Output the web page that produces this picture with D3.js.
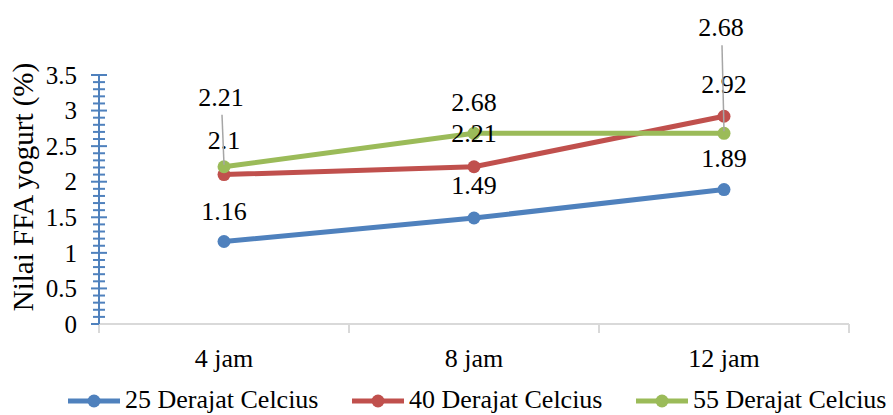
<!DOCTYPE html>
<html>
<head>
<meta charset="utf-8">
<script src="https://cdn.jsdelivr.net/npm/d3@7"></script>
<style>
  html, body { margin: 0; padding: 0; background: #fff; }
  svg { display: block; }
  .serif { font-family: 'Liberation Serif', 'Times New Roman', Tinos, 'DejaVu Serif', serif; }
</style>
</head>
<body>
<svg id="chart" width="893" height="415"></svg>
<script>
// Waktu pengamatan
const categories = ["4 jam", "8 jam", "12 jam"];
// Nilai FFA yogurt (%) per suhu
const seriesNames = ["25 Derajat Celcius", "40 Derajat Celcius", "55 Derajat Celcius"];
const values25 = [1.16, 1.49, 1.89];
const values40 = [2.1, 2.21, 2.92];
const values55 = [2.21, 2.68, 2.68];
const yTicks = [0, 0.5, 1, 1.5, 2, 2.5, 3, 3.5];
const yTickLabels = ["0", "0.5", "1", "1.5", "2", "2.5", "3", "3.5"];

const colors = ["#4F81BD", "#C0504D", "#9BBB59"];
const series = [values25, values40, values55].map((v, i) => ({ name: seriesNames[i], values: v, color: colors[i] }));

// Data label placement: vertical lift above the point (px); leader line when lifted far
const labelLift = [
  [31, 33, 32],
  [35, 34, 32],
  [70, 31, 106]
];
const labelShiftX = [
  [0, 0, 0],
  [0, 0, 0],
  [-3, 0, -3]
];

const svg = d3.select("#chart");
const margin = { left: 99, right: 44, top: 75, bottom: 91 };
const W = 893, H = 415;

const x = d3.scaleBand().domain(categories).range([margin.left, W - margin.right]).paddingInner(0).paddingOuter(0);
const y = d3.scaleLinear().domain([0, 3.5]).range([H - margin.bottom, margin.top]);
const cx = d => x(d) + x.bandwidth() / 2;

// Category axis (grey baseline with boundary ticks)
const xBase = y(0);
svg.append("line")
  .attr("x1", margin.left).attr("x2", W - margin.right)
  .attr("y1", xBase).attr("y2", xBase)
  .attr("stroke", "#d9d9d9").attr("stroke-width", 2);
const bounds = categories.map(c => x(c)).concat([x(categories[categories.length - 1]) + x.bandwidth()]);
svg.selectAll(".xtick").data(bounds).join("line")
  .attr("x1", d => d).attr("x2", d => d)
  .attr("y1", xBase).attr("y2", xBase + 9)
  .attr("stroke", "#d9d9d9").attr("stroke-width", 2);
svg.selectAll(".xlabel").data(categories).join("text")
  .attr("class", "serif")
  .attr("x", d => cx(d)).attr("y", xBase + 34).attr("dy", "0.35em")
  .attr("text-anchor", "middle").attr("font-size", 26).attr("fill", "#000")
  .text(d => d);

// Value axis (blue, with major and minor ticks)
const axisColor = "#4F81BD";
const minor = d3.range(0, 3.5001, 0.1).filter(v => Math.abs(v * 2 - Math.round(v * 2)) > 1e-6);
svg.selectAll(".ymin").data(minor).join("line")
  .attr("x1", margin.left - 6).attr("x2", margin.left + 6)
  .attr("y1", d => y(d)).attr("y2", d => y(d))
  .attr("stroke", axisColor).attr("stroke-width", 2);
svg.selectAll(".ymaj").data(yTicks).join("line")
  .attr("x1", margin.left - 8).attr("x2", d => d === 0 ? margin.left : margin.left + 8)
  .attr("y1", d => y(d)).attr("y2", d => y(d))
  .attr("stroke", axisColor).attr("stroke-width", 2);
svg.append("line")
  .attr("x1", margin.left).attr("x2", margin.left)
  .attr("y1", y(3.5)).attr("y2", y(0))
  .attr("stroke", axisColor).attr("stroke-width", 2);
svg.selectAll(".ylabel").data(yTicks).join("text")
  .attr("class", "serif")
  .attr("x", margin.left - 22).attr("y", d => y(d)).attr("dy", "0.35em")
  .attr("text-anchor", "end").attr("font-size", 25).attr("fill", "#000")
  .text((d, i) => yTickLabels[i]);

svg.append("text")
  .attr("class", "serif")
  .attr("transform", `translate(33, 187) rotate(-90)`)
  .attr("text-anchor", "middle").attr("font-size", 29).attr("fill", "#000")
  .text("Nilai FFA yogurt (%)");

// Lines and markers
const line = d3.line().x((d, i) => cx(categories[i])).y(d => y(d));
series.forEach(s => {
  svg.append("path").datum(s.values)
    .attr("d", line).attr("fill", "none")
    .attr("stroke", s.color).attr("stroke-width", 5).attr("stroke-linejoin", "round").attr("stroke-linecap", "round");
  svg.selectAll(null).data(s.values).join("circle")
    .attr("cx", (d, i) => cx(categories[i])).attr("cy", d => y(d)).attr("r", 6.5)
    .attr("fill", s.color);
});

// Data labels with leader lines
series.forEach((s, si) => {
  s.values.forEach((v, i) => {
    const px = cx(categories[i]);
    const py = y(v);
    const lift = labelLift[si][i];
    const lx = px + labelShiftX[si][i];
    const ly = py - lift;
    if (lift > 50) {
      svg.append("line")
        .attr("x1", lx + 1).attr("y1", ly + 18)
        .attr("x2", px).attr("y2", py - 2)
        .attr("stroke", "#a6a6a6").attr("stroke-width", 1.5);
    }
    svg.append("text")
      .attr("class", "serif")
      .attr("x", lx).attr("y", ly).attr("dy", "0.35em")
      .attr("text-anchor", "middle").attr("font-size", 26).attr("fill", "#000")
      .text(v);
  });
});

// Legend
const legendY = 401;
const legendX = [68, 352, 636];
series.forEach((s, i) => {
  const g = svg.append("g").attr("transform", `translate(${legendX[i]}, ${legendY})`);
  g.append("line").attr("x1", 0).attr("x2", 52).attr("y1", 0).attr("y2", 0)
    .attr("stroke", s.color).attr("stroke-width", 5);
  g.append("circle").attr("cx", 26).attr("cy", 0).attr("r", 6.5).attr("fill", s.color);
  g.append("text").attr("class", "serif").attr("x", 57).attr("y", -1).attr("dy", "0.32em")
    .attr("font-size", 26).attr("fill", "#000").text(s.name);
});
</script>
</body>
</html>
